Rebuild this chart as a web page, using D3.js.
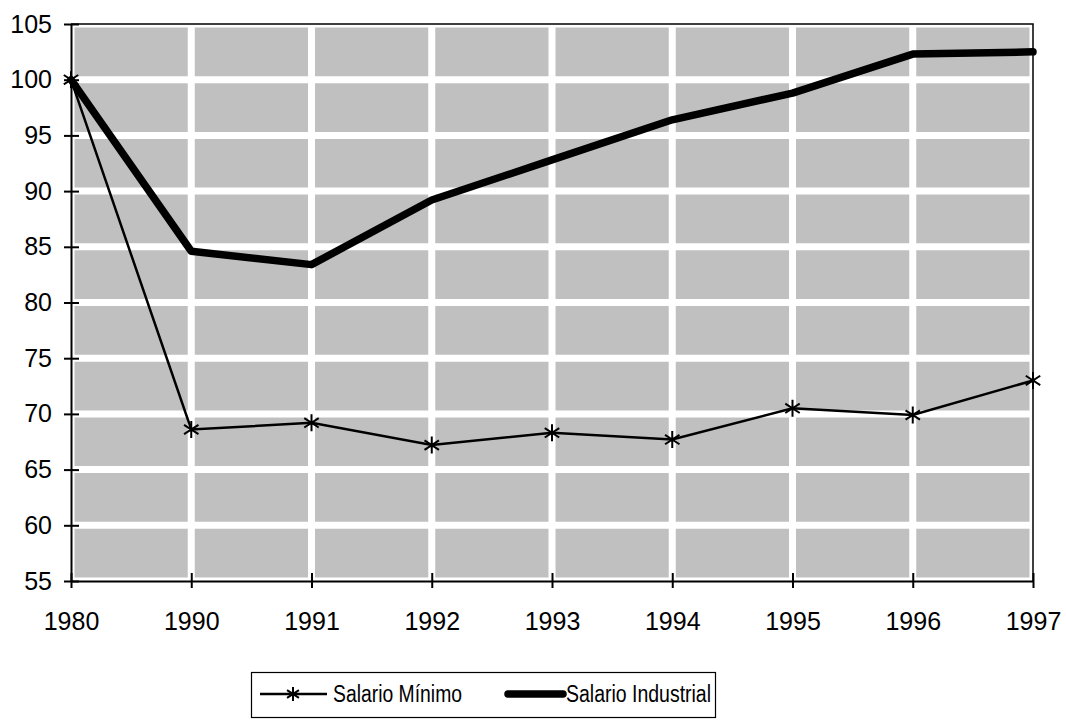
<!DOCTYPE html>
<html>
<head>
<meta charset="utf-8">
<script src="https://cdn.jsdelivr.net/npm/d3@7"></script>
<style>
  body { margin: 0; background: #fff; }
  text { font-family: "Liberation Sans", Arial, sans-serif; fill: #000; }
</style>
</head>
<body>
<script>
var years = ['1980', '1990', '1991', '1992', '1993', '1994', '1995', '1996', '1997'];
var salarioMinimo = [100, 68.6, 69.2, 67.2, 68.3, 67.7, 70.5, 69.9, 73.0];
var salarioIndustrial = [100, 84.6, 83.4, 89.2, 92.8, 96.4, 98.8, 102.3, 102.5];
var yTicks = [55, 60, 65, 70, 75, 80, 85, 90, 95, 100, 105];

var margin = {top: 24, right: 33, bottom: 139, left: 71},
    width = 1066 - margin.left - margin.right,
    height = 720 - margin.top - margin.bottom;

var svg = d3.select('body')
    .append('svg')
    .attr('width', 1066)
    .attr('height', 720);

var x = d3.scalePoint().domain(years).range([0, width]).padding(0);
var y = d3.scaleLinear().domain([55, 105]).range([height, 0]);

var g = svg.append('g')
    .attr('transform', 'translate(' + margin.left + ',' + margin.top + ')');

// clip so the thick white grid stays inside the plot
svg.append('defs').append('clipPath').attr('id', 'plotclip')
    .append('rect').attr('width', width).attr('height', height);

g.append('rect')
    .attr('width', width)
    .attr('height', height)
    .attr('fill', '#c0c0c0');

var grid = g.append('g').attr('clip-path', 'url(#plotclip)');
grid.selectAll('.hg')
    .data(yTicks)
    .enter().append('line')
    .attr('x1', 0).attr('x2', width)
    .attr('y1', function (d) { return y(d); })
    .attr('y2', function (d) { return y(d); })
    .attr('stroke', '#fff').attr('stroke-width', 7);
grid.selectAll('.vg')
    .data(years)
    .enter().append('line')
    .attr('y1', 0).attr('y2', height)
    .attr('x1', function (d) { return x(d); })
    .attr('x2', function (d) { return x(d); })
    .attr('stroke', '#fff').attr('stroke-width', 7);

// top and right border
g.append('path')
    .attr('d', 'M0,0H' + width + 'V' + height)
    .attr('fill', 'none').attr('stroke', '#000').attr('stroke-width', 1.5);

// axes
var yAxis = g.append('g')
    .call(d3.axisLeft(y).tickValues(yTicks).tickSizeInner(7).tickSizeOuter(0).tickPadding(12));
yAxis.selectAll('.tick line').attr('x2', 8).attr('x1', -7).attr('stroke-width', 2);
yAxis.select('.domain').attr('stroke-width', 2);
yAxis.selectAll('text').style('font-size', '25px');

var xAxis = g.append('g')
    .attr('transform', 'translate(0,' + height + ')')
    .call(d3.axisBottom(x).tickSizeInner(7).tickSizeOuter(0).tickPadding(24));
xAxis.selectAll('.tick line').attr('y1', -8).attr('y2', 7).attr('stroke-width', 2);
xAxis.select('.domain').attr('stroke-width', 2);
xAxis.selectAll('text').style('font-size', '25px');

// lines
var line = d3.line()
    .x(function (d, i) { return x(years[i]); })
    .y(function (d) { return y(d); });

g.append('path')
    .datum(salarioIndustrial)
    .attr('d', line)
    .attr('fill', 'none')
    .attr('stroke', '#000')
    .attr('stroke-width', 7.5)
    .attr('stroke-linejoin', 'round')
    .attr('stroke-linecap', 'round');

g.append('path')
    .datum(salarioMinimo)
    .attr('d', line)
    .attr('fill', 'none')
    .attr('stroke', '#000')
    .attr('stroke-width', 2.5);

function star(sel, r) {
    var k = r * 0.85;
    sel.append('path')
        .attr('d', 'M0,' + (-r) + 'V' + r +
              'M' + (-k) + ',' + (-k * 0.65) + 'L' + k + ',' + (k * 0.65) +
              'M' + (-k) + ',' + (k * 0.65) + 'L' + k + ',' + (-k * 0.65))
        .attr('stroke', '#000')
        .attr('stroke-width', 2)
        .attr('fill', 'none');
}

g.selectAll('.marker')
    .data(salarioMinimo)
    .enter().append('g')
    .attr('transform', function (d, i) { return 'translate(' + x(years[i]) + ',' + y(d) + ')'; })
    .each(function () { star(d3.select(this), 8.5); });

// legend
var leg = svg.append('g');
leg.append('rect')
    .attr('x', 251.5).attr('y', 672.5)
    .attr('width', 464).attr('height', 45)
    .attr('fill', '#fff').attr('stroke', '#000').attr('stroke-width', 1.2);

leg.append('line')
    .attr('x1', 260).attr('x2', 327).attr('y1', 694).attr('y2', 694)
    .attr('stroke', '#000').attr('stroke-width', 2.5);
leg.append('g').attr('transform', 'translate(293,694)').call(star, 7);
leg.append('text')
    .attr('x', 333).attr('y', 702)
    .style('font-size', '23px')
    .attr('textLength', 129)
    .attr('lengthAdjust', 'spacingAndGlyphs')
    .text('Salario Mínimo');

leg.append('line')
    .attr('x1', 508).attr('x2', 563).attr('y1', 694).attr('y2', 694)
    .attr('stroke', '#000').attr('stroke-width', 7.5)
    .attr('stroke-linecap', 'round');
leg.append('text')
    .attr('x', 566).attr('y', 702)
    .style('font-size', '23px')
    .attr('textLength', 145)
    .attr('lengthAdjust', 'spacingAndGlyphs')
    .text('Salario Industrial');
</script>
</body>
</html>
